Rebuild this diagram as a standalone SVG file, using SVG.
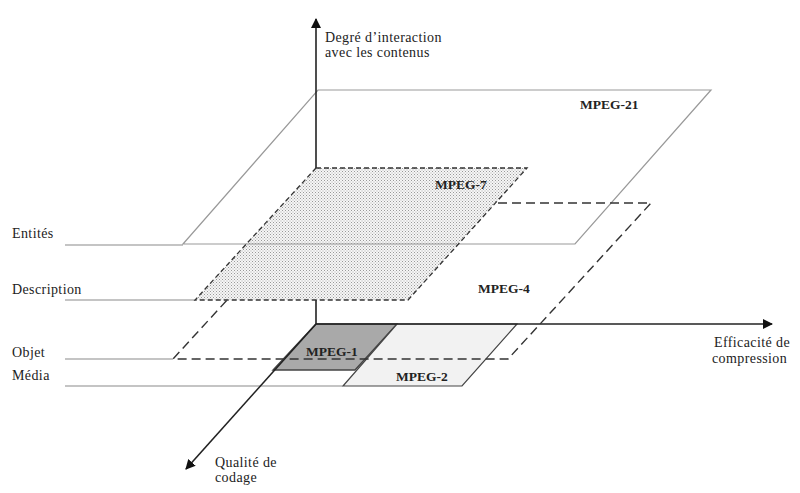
<svg xmlns="http://www.w3.org/2000/svg" width="800" height="493" viewBox="0 0 800 493">
<defs>
<pattern id="dots" width="3" height="3" patternUnits="userSpaceOnUse">
<rect width="3" height="3" fill="#f6f6f6"/>
<rect x="0" y="0" width="1" height="1" fill="#999"/>
<rect x="1.5" y="1.5" width="1" height="1" fill="#aaa"/>
</pattern>
<marker id="arr" viewBox="0 0 10 10" refX="9" refY="5" markerWidth="10" markerHeight="10" markerUnits="userSpaceOnUse" orient="auto">
<path d="M0,0 L10,5 L0,10 z" fill="#111"/>
</marker>
</defs>
<style>
.lbl{font-family:"Liberation Serif","DejaVu Serif",serif;font-size:14px;letter-spacing:0.4px;fill:#222}
.mp{font-family:"Liberation Serif","DejaVu Serif",serif;font-size:13.5px;font-weight:bold;fill:#222}
.guide{stroke:#8a8a8a;stroke-width:1.2;fill:none}
.axis{stroke:#222;stroke-width:1.6;fill:none}
</style>
<rect width="800" height="493" fill="#fff"/>

<g id="mpeg21">
<polygon points="318,90 711,90 575,244 183,244" fill="#fff" stroke="#999" stroke-width="1.2"/>
<text class="mp" x="580" y="109">MPEG-21</text>
</g>

<g id="mpeg1">
<polygon points="316,324 397,324 355,370 273,370" fill="#a9a9a9" stroke="#444" stroke-width="1.4"/>
<text class="mp" x="306" y="356">MPEG-1</text>
</g>

<g id="mpeg2">
<polygon points="397,324 517,324 462,386 343,386" fill="#f2f2f2" stroke="#444" stroke-width="1.2"/>
<text class="mp" x="396" y="381">MPEG-2</text>
</g>

<g id="connectors">
<line class="guide" x1="65" y1="245" x2="183" y2="245"/>
<line class="guide" x1="65" y1="300" x2="195" y2="300"/>
<line class="guide" x1="65" y1="359" x2="173" y2="359"/>
<line class="guide" x1="65" y1="386" x2="343" y2="386"/>
<line class="axis" x1="316" y1="324" x2="316" y2="19" marker-end="url(#arr)"/>
<line class="axis" x1="316" y1="324" x2="772" y2="324" marker-end="url(#arr)"/>
<line class="axis" x1="316" y1="324" x2="186" y2="469" marker-end="url(#arr)"/>
</g>

<g id="mpeg4">
<polygon points="316,203 651,203 508,359 173,359" fill="none" stroke="#333" stroke-width="1.4" stroke-dasharray="9,5"/>
<text class="mp" x="478" y="293">MPEG-4</text>
</g>

<g id="mpeg7">
<polygon points="316,168 527,168 408,300 195,300" fill="url(#dots)" stroke="#333" stroke-width="1.3" stroke-dasharray="5,3"/>
<line x1="246" y1="244" x2="457" y2="244" stroke="#999" stroke-width="1"/>
<text class="mp" x="435" y="189">MPEG-7</text>
</g>

<g id="labels">
<text class="lbl" x="325" y="42">Degré d’interaction</text>
<text class="lbl" x="325" y="57">avec les contenus</text>
<text class="lbl" x="12" y="238">Entités</text>
<text class="lbl" x="12" y="294">Description</text>
<text class="lbl" x="12" y="357">Objet</text>
<text class="lbl" x="12" y="380">Média</text>
<text class="lbl" x="714" y="347">Efficacité de</text>
<text class="lbl" x="712" y="363">compression</text>
<text class="lbl" x="215" y="467">Qualité de</text>
<text class="lbl" x="215" y="482">codage</text>
</g>
</svg>
